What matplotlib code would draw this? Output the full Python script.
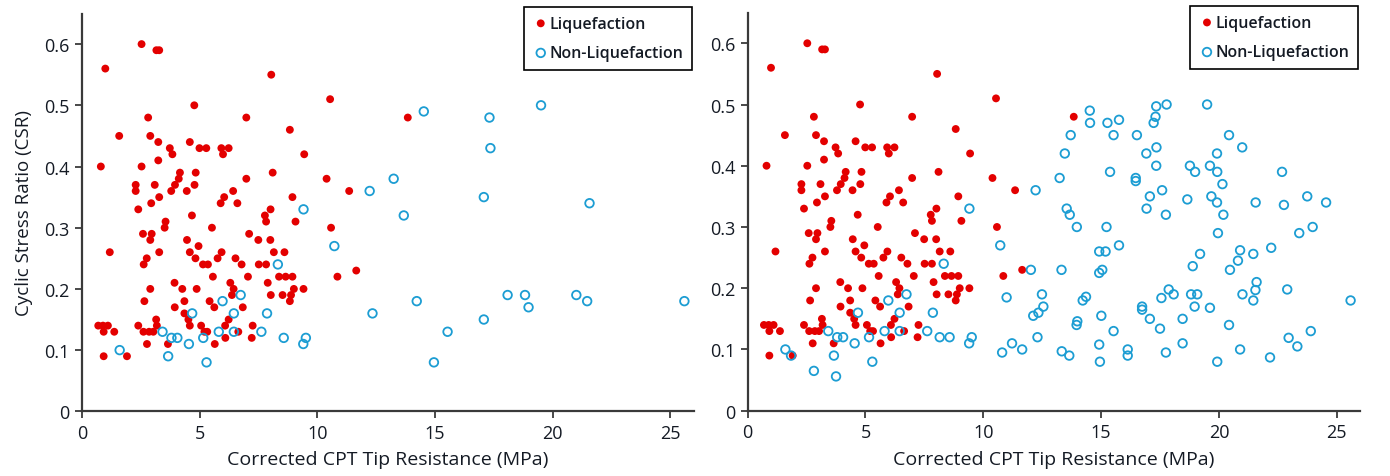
import numpy as np
import matplotlib
matplotlib.use('Agg')
import matplotlib.pyplot as plt

plt.rcParams['font.family'] = ['Open Sans', 'DejaVu Sans']

# liquefaction cases (same in both panels)
liq_x = [2.53, 3.16, 3.28, 0.99, 8.04, 10.54, 4.77, 2.81, 6.98, 13.84, 8.83, 1.58, 2.90,
         3.24, 4.58, 3.73, 4.99, 5.28, 5.92, 6.23, 3.84, 5.99, 9.44, 3.24, 0.80, 2.53,
         4.16, 4.83, 8.10, 4.11, 6.98, 10.39, 2.28, 3.09, 3.95, 4.78, 2.28, 3.79, 4.45,
         6.42, 11.35, 3.28, 6.04, 8.94, 2.94, 5.89, 6.60, 2.39, 8.01, 4.67, 7.77, 3.55,
         7.82, 9.07, 3.51, 5.52, 10.58, 2.59, 2.96, 7.10, 2.90, 4.46, 7.49, 8.00, 4.95,
         1.18, 3.28, 4.58, 5.93, 8.15, 8.60, 2.75, 4.82, 5.76, 6.52, 2.62, 5.14, 5.35,
         6.78, 7.51, 7.82, 11.65, 5.56, 7.05, 8.37, 8.65, 8.94, 10.85, 3.93, 6.30, 7.89,
         2.90, 4.26, 4.87, 6.44, 9.00, 9.41, 6.37, 8.02, 8.52, 8.88, 2.65, 4.35, 5.42,
         8.83, 3.94, 5.62, 6.83, 4.35, 3.15, 4.52, 6.23, 0.69, 0.89, 1.10, 2.39, 3.18,
         4.58, 5.06, 6.08, 7.25, 0.92, 1.37, 2.61, 2.85, 3.03, 5.20, 5.32, 6.64, 6.09,
         7.21, 2.76, 3.65, 5.64, 0.92, 1.91]
liq_y = [0.60, 0.59, 0.59, 0.56, 0.55, 0.51, 0.50, 0.48, 0.48, 0.48, 0.46, 0.45, 0.45,
         0.44, 0.44, 0.43, 0.43, 0.43, 0.43, 0.43, 0.42, 0.42, 0.42, 0.41, 0.40, 0.40,
         0.39, 0.39, 0.39, 0.38, 0.38, 0.38, 0.37, 0.37, 0.37, 0.37, 0.36, 0.36, 0.36,
         0.36, 0.36, 0.35, 0.35, 0.35, 0.34, 0.34, 0.34, 0.33, 0.33, 0.32, 0.32, 0.31,
         0.31, 0.31, 0.30, 0.30, 0.30, 0.29, 0.29, 0.29, 0.28, 0.28, 0.28, 0.28, 0.27,
         0.26, 0.26, 0.26, 0.26, 0.26, 0.26, 0.25, 0.25, 0.25, 0.25, 0.24, 0.24, 0.24,
         0.24, 0.24, 0.24, 0.23, 0.22, 0.22, 0.22, 0.22, 0.22, 0.22, 0.21, 0.21, 0.21,
         0.20, 0.20, 0.20, 0.20, 0.20, 0.20, 0.19, 0.19, 0.19, 0.19, 0.18, 0.18, 0.18,
         0.18, 0.17, 0.17, 0.17, 0.16, 0.15, 0.15, 0.15, 0.14, 0.14, 0.14, 0.14, 0.14,
         0.14, 0.14, 0.14, 0.14, 0.13, 0.13, 0.13, 0.13, 0.13, 0.13, 0.13, 0.13, 0.12,
         0.12, 0.11, 0.11, 0.11, 0.09, 0.09]

# non-liquefaction cases in the left panel
nonliq_x = [14.52, 17.31, 19.50, 17.35, 13.24, 12.22, 17.07, 21.56, 13.67, 9.41, 10.72,
            8.32, 6.74, 5.97, 18.08, 18.82, 21.00, 14.22, 21.46, 25.59, 18.97, 4.68, 6.45,
            7.86, 12.34, 17.07, 3.42, 5.81, 6.45, 7.62, 15.53, 3.80, 4.05, 5.15, 8.57,
            9.51, 4.54, 9.40, 1.60, 3.66, 5.29, 14.95]
nonliq_y = [0.49, 0.48, 0.50, 0.43, 0.38, 0.36, 0.35, 0.34, 0.32, 0.33, 0.27,
            0.24, 0.19, 0.18, 0.19, 0.19, 0.19, 0.18, 0.18, 0.18, 0.17, 0.16, 0.16,
            0.16, 0.16, 0.15, 0.13, 0.13, 0.13, 0.13, 0.13, 0.12, 0.12, 0.12, 0.12,
            0.12, 0.11, 0.11, 0.10, 0.09, 0.08, 0.08]

# extra non-liquefaction cases shown only in the right panel
extra_x = [10.99, 8.15, 1.84, 2.81, 3.75, 10.80, 11.22, 11.65,
           14.53, 15.27, 15.76, 15.53, 16.52, 13.71, 13.46, 15.38, 16.47, 16.47, 13.54,
           13.97, 15.23, 14.92, 15.19, 15.76, 12.02, 13.32, 14.92, 15.05, 12.49, 12.55,
           12.12, 14.36, 15.01, 13.99, 13.96, 12.30, 13.33, 13.65, 14.92, 16.13, 16.13,
           17.34, 17.78, 17.23, 16.92, 17.34, 18.77, 18.99, 19.62, 19.93, 20.43, 20.99,
           19.92, 20.15, 22.68, 16.93, 17.59, 18.66, 19.68, 19.92, 20.19, 17.75, 22.76,
           23.75, 24.55, 19.96, 23.98, 23.41,
           19.20, 18.89, 20.90, 21.46, 22.22, 20.81, 20.47, 21.60, 21.55, 22.90, 16.74,
           16.74, 17.56, 17.87, 19.08, 18.46, 19.62, 17.50, 18.46, 17.75, 20.43, 19.93,
           20.90, 22.17, 22.96, 23.33, 23.90]
extra_y = [0.185, 0.12, 0.09, 0.065, 0.056, 0.095, 0.11, 0.10,
           0.47, 0.47, 0.475, 0.45, 0.45, 0.45, 0.42, 0.39, 0.38, 0.375, 0.33,
           0.30, 0.30, 0.26, 0.26, 0.27, 0.23, 0.23, 0.225, 0.23, 0.19, 0.17,
           0.155, 0.186, 0.155, 0.146, 0.14, 0.12, 0.097, 0.09, 0.108, 0.10, 0.09,
           0.497, 0.50, 0.47, 0.42, 0.40, 0.40, 0.39, 0.40, 0.39, 0.45, 0.43,
           0.42, 0.37, 0.39, 0.33, 0.36, 0.345, 0.35, 0.34, 0.32, 0.32, 0.336,
           0.35, 0.34, 0.29, 0.30, 0.29,
           0.256, 0.236, 0.262, 0.256, 0.266, 0.245, 0.23, 0.21, 0.197, 0.198, 0.17,
           0.165, 0.184, 0.198, 0.19, 0.15, 0.168, 0.134, 0.11, 0.095, 0.14, 0.08,
           0.10, 0.087, 0.119, 0.105, 0.13]

x_ticks = [0, 5, 10, 15, 20, 25]
y_ticks = [0, 0.1, 0.2, 0.3, 0.4, 0.5, 0.6]
y_tick_labels = ['0', '0.1', '0.2', '0.3', '0.4', '0.5', '0.6']

red = '#e30000'
blue = '#1c9dd3'
axis_col = '#3a3a3a'
text_col = '#141a24'

fig = plt.figure(figsize=(13.9, 4.77), dpi=100)
ax1 = fig.add_axes([0.059, 0.1356, 0.4403, 0.834])
ax2 = fig.add_axes([0.5379, 0.1369, 0.4407, 0.8345])

panels = [(ax1, nonliq_x, nonliq_y), (ax2, nonliq_x + extra_x, nonliq_y + extra_y)]

for ax, bx, by in panels:
    ax.scatter(liq_x, liq_y, s=32, color=red, edgecolors='none', label='Liquefaction', zorder=3)
    ax.scatter(bx, by, s=38, facecolors='none', edgecolors=blue, linewidths=1.3,
               label='Non-Liquefaction', zorder=3)
    ax.set_xlim(0, 26)
    ax.set_ylim(0, 0.65)
    ax.set_xticks(x_ticks)
    ax.set_yticks(y_ticks)
    ax.set_yticklabels(y_tick_labels)
    for side in ['top', 'right']:
        ax.spines[side].set_visible(False)
    for side in ['left', 'bottom']:
        ax.spines[side].set_color(axis_col)
        ax.spines[side].set_linewidth(1.6)
    ax.tick_params(direction='out', length=5, width=1.3, color=axis_col,
                   labelsize=13, labelcolor=text_col, pad=4)
    ax.set_xlabel('Corrected CPT Tip Resistance (MPa)', fontsize=14, color=text_col, labelpad=6)
    leg = ax.legend(loc='upper right', bbox_to_anchor=(0.997, 1.017), borderaxespad=0,
                    fancybox=False, edgecolor='black', framealpha=1, handletextpad=0.05,
                    handlelength=1.0, borderpad=0.55, labelspacing=0.85,
                    prop={'size': 11.5, 'weight': 'semibold'})
    leg.get_frame().set_linewidth(1.2)
    for t in leg.get_texts():
        t.set_color(text_col)

ax1.set_ylabel('Cyclic Stress Ratio (CSR)', fontsize=13.5, color=text_col, labelpad=8)

plt.savefig('out.png', dpi=100)
